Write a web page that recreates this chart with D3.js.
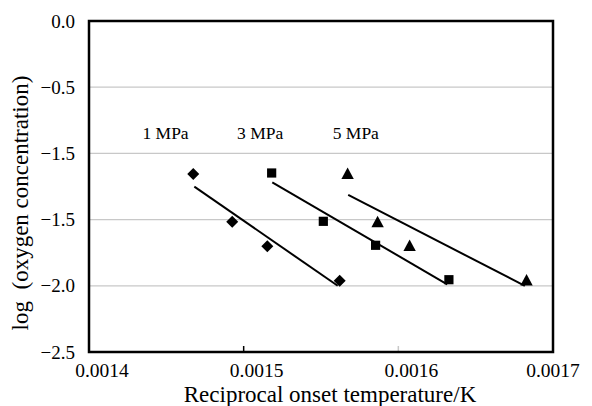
<!DOCTYPE html>
<html>
<head>
<meta charset="utf-8">
<script src="https://cdn.jsdelivr.net/npm/d3@7"></script>
<style>
  body { margin: 0; background: #fff; }
  text { font-family: "Liberation Serif", "Times New Roman", serif; fill: #000; }
</style>
</head>
<body>
<div id="chart"></div>
<script>
// values
let diamondX = [0.0014674, 0.0014926, 0.0015153, 0.0015621];
let diamondY = [-1.156, -1.516, -1.702, -1.961];
let squareX = [0.0015181, 0.0015515, 0.0015853, 0.0016327];
let squareY = [-1.148, -1.513, -1.694, -1.954];
let triangleX = [0.0015672, 0.0015866, 0.0016073, 0.0016829];
let triangleY = [-1.156, -1.520, -1.700, -1.960];

// trend line ends (start, end)
let trendX = [[0.0014681, 0.0015608], [0.0015185, 0.0016316], [0.0015676, 0.0016818]];
let trendY = [[-1.251, -2.0], [-1.218, -1.989], [-1.314, -2.0]];

let seriesNames = ['1 MPa', '3 MPa', '5 MPa'];
let labelX = [0.0014495, 0.0015107, 0.0015725];
let labelY = -0.89;

let xTicks = [0.0014, 0.0015, 0.0016, 0.0017];
let xTickLabels = ['0.0014', '0.0015', '0.0016', '0.0017'];
let yTicks = [0, -0.5, -1.0, -1.5, -2.0, -2.5];
let yTickLabels = ['0.0', '\u22120.5', '\u22121.5', '\u22121.5', '\u22122.0', '\u22122.5'];

let width = 592, height = 406;
let margin = {top: 21, right: 39, bottom: 54, left: 89};
let plotW = width - margin.left - margin.right;
let plotH = height - margin.top - margin.bottom;

let svg = d3.select('#chart').append('svg')
    .attr('width', width)
    .attr('height', height);

let g = svg.append('g')
    .attr('transform', 'translate(' + margin.left + ',' + margin.top + ')');

let x = d3.scaleLinear().domain([0.0014, 0.0017]).range([0, plotW]);
let y = d3.scaleLinear().domain([-2.5, 0]).range([plotH, 0]);

// gridlines
g.selectAll('line.grid')
    .data(yTicks.slice(1, -1))
    .enter()
    .append('line')
    .attr('class', 'grid')
    .attr('x1', 0).attr('x2', plotW)
    .attr('y1', d => y(d)).attr('y2', d => y(d))
    .attr('stroke', '#c8c8c8')
    .attr('stroke-width', 1.2);

// small inner ticks on x axis
g.selectAll('line.xtick')
    .data(xTicks.slice(1, -1))
    .enter()
    .append('line')
    .attr('x1', d => x(d)).attr('x2', d => x(d))
    .attr('y1', plotH).attr('y2', plotH - 6)
    .attr('stroke', (d, i) => i == 0 ? '#000' : '#c8c8c8')
    .attr('stroke-width', 1.5);

// frame
g.append('rect')
    .attr('x', 0).attr('y', 0)
    .attr('width', plotW).attr('height', plotH)
    .attr('fill', 'none')
    .attr('stroke', '#000')
    .attr('stroke-width', 2.5);

// tick labels
g.selectAll('text.ylab')
    .data(yTicks)
    .enter()
    .append('text')
    .attr('x', -14)
    .attr('y', d => y(d))
    .attr('dy', '0.35em')
    .attr('text-anchor', 'end')
    .attr('font-size', 19)
    .text((d, i) => yTickLabels[i]);

g.selectAll('text.xlab')
    .data(xTicks)
    .enter()
    .append('text')
    .attr('x', (d, i) => i == xTicks.length - 1 ? x(d) : x(d) + 13)
    .attr('y', plotH + 25)
    .attr('text-anchor', 'middle')
    .attr('font-size', 19.5)
    .text((d, i) => xTickLabels[i]);

// axis titles
svg.append('text')
    .attr('x', 330)
    .attr('y', 402)
    .attr('text-anchor', 'middle')
    .attr('font-size', 23)
    .text('Reciprocal onset temperature/K');

svg.append('text')
    .attr('transform', 'translate(28,203) rotate(-90)')
    .attr('text-anchor', 'middle')
    .attr('font-size', 23)
    .attr('xml:space', 'preserve')
    .text('log  (oxygen concentration)');

// trend lines
let line = d3.line().x(d => x(d[0])).y(d => y(d[1]));
trendX.forEach(function (xs, i) {
    g.append('path')
        .datum(xs.map((v, j) => [v, trendY[i][j]]))
        .attr('d', line)
        .attr('fill', 'none')
        .attr('stroke', '#000')
        .attr('stroke-width', 2);
});

// markers
let shapes = [
    'M0,-6L6,0L0,6L-6,0Z',
    'M-4.6,-4.6L4.6,-4.6L4.6,4.6L-4.6,4.6Z',
    'M0,-6.5L6.2,5L-6.2,5Z'
];
[[diamondX, diamondY], [squareX, squareY], [triangleX, triangleY]].forEach(function (s, i) {
    g.selectAll('path.m' + i)
        .data(s[0])
        .enter()
        .append('path')
        .attr('class', 'm' + i)
        .attr('d', shapes[i])
        .attr('transform', (d, j) => 'translate(' + x(d) + ',' + y(s[1][j]) + ')')
        .attr('fill', '#000');
});

// pressure labels
g.selectAll('text.series')
    .data(seriesNames)
    .enter()
    .append('text')
    .attr('x', (d, i) => x(labelX[i]))
    .attr('y', y(labelY))
    .attr('text-anchor', 'middle')
    .attr('font-size', 17.5)
    .text(d => d);
</script>
</body>
</html>
